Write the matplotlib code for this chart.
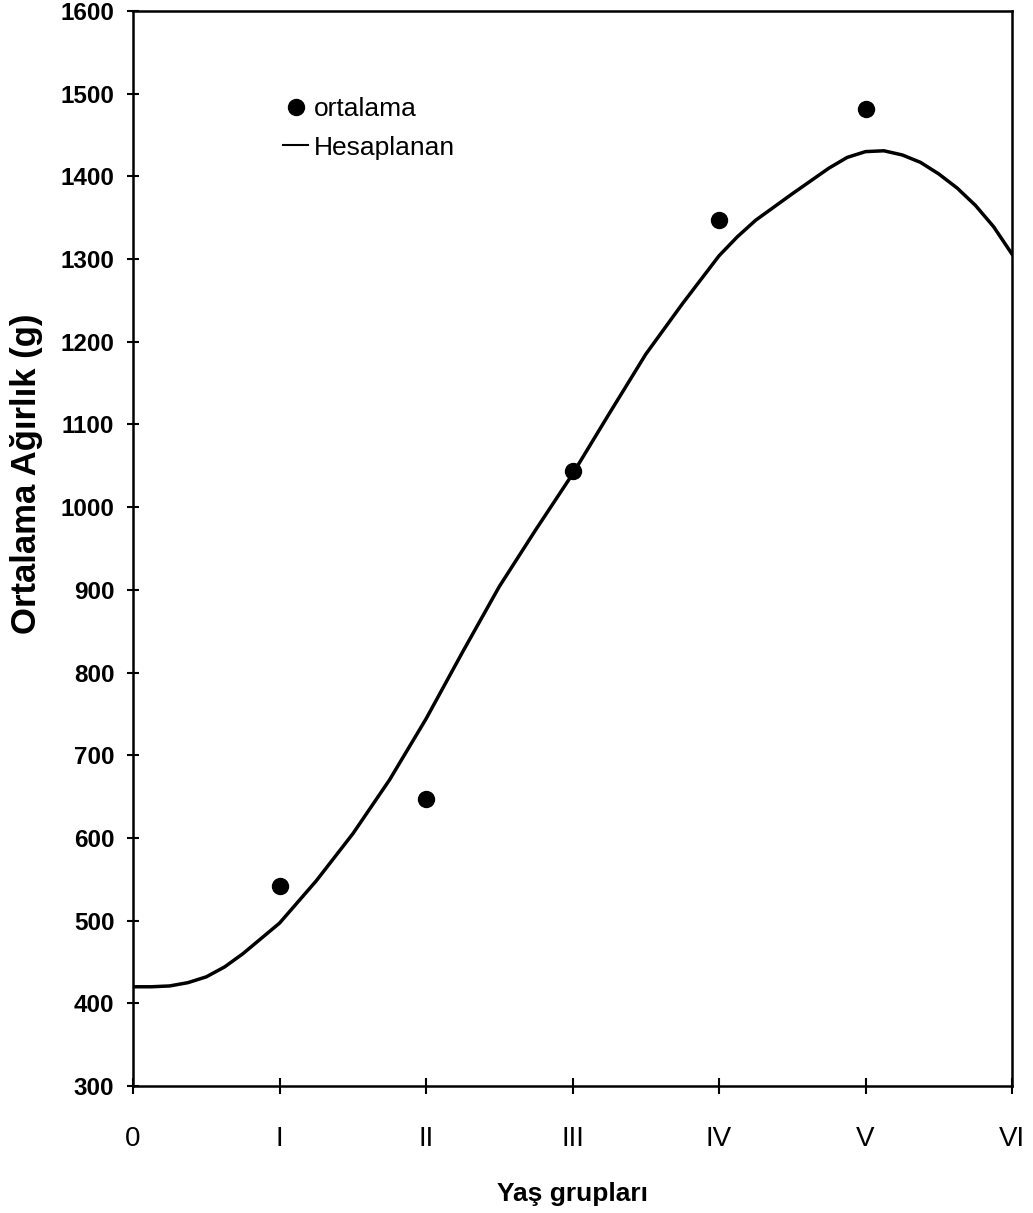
import matplotlib
matplotlib.use("Agg")
import matplotlib.pyplot as plt
from matplotlib.lines import Line2D

plt.rcParams['font.family'] = ['Liberation Sans', 'DejaVu Sans']

# age groups (0..VI) and observed mean weights
groups = [1, 2, 3, 4, 5]
mean_weight = [542, 647, 1044, 1347, 1481]

# fitted curve
curve_x = [0, 0.125, 0.25, 0.375, 0.5, 0.625, 0.75, 1.0, 1.25, 1.5, 1.75, 2.0,
           2.25, 2.5, 2.75, 3.0, 3.25, 3.5, 3.75, 4.0, 4.125, 4.25, 4.5, 4.75,
           4.875, 5.0, 5.125, 5.25, 5.375, 5.5, 5.625, 5.75, 5.875, 6.0]
curve_y = [420, 420, 421, 425, 432, 444, 460, 497, 548, 605, 670, 744,
           825, 904, 973, 1040, 1113, 1185, 1246, 1304, 1327, 1347, 1379, 1410,
           1423, 1430, 1431, 1426, 1417, 1403, 1386, 1365, 1339, 1306]

x_ticks = [0, 1, 2, 3, 4, 5, 6]
x_labels = ['0', 'I', 'II', 'III', 'IV', 'V', 'VI']
y_ticks = list(range(300, 1601, 100))

fig = plt.figure(figsize=(10.33, 12.13), dpi=100)
ax = fig.add_axes([0.1288, 0.1047, 0.8509, 0.8862])

ax.plot(curve_x, curve_y, color='black', linewidth=2.5, solid_joinstyle='round')
ax.plot(groups, mean_weight, 'o', color='black', markersize=11.5, linestyle='none')

ax.set_xlim(0, 6)
ax.set_ylim(300, 1600)
ax.set_xticks(x_ticks)
ax.set_xticklabels(x_labels, fontsize=20)
ax.set_yticks(y_ticks)
ax.set_yticklabels([str(v) for v in y_ticks], fontsize=17.5, fontweight='bold')

ax.tick_params(axis='y', direction='inout', length=9, width=1.5, pad=9)
ax.tick_params(axis='x', direction='inout', length=11, width=1.5, pad=23)
for s in ax.spines.values():
    s.set_linewidth(1.8)

ax.set_ylabel('Ortalama Ağırlık (g)', fontsize=25, fontweight='bold', labelpad=8)
ax.yaxis.set_label_coords(-0.103, 0.57)
ax.set_xlabel('Yaş grupları', fontsize=19, fontweight='bold', labelpad=22)

handles = [
    Line2D([], [], marker='o', color='black', markersize=11.5, linestyle='none'),
    Line2D([], [], color='black', linewidth=1.5),
]
ax.legend(handles, ['ortalama', 'Hesaplanan'], loc='upper left',
          bbox_to_anchor=(0.171, 0.92), frameon=False, fontsize=19,
          handlelength=0.95, handletextpad=0.2, labelspacing=0.55,
          borderpad=0, borderaxespad=0)

fig.savefig('out.png', dpi=100)
